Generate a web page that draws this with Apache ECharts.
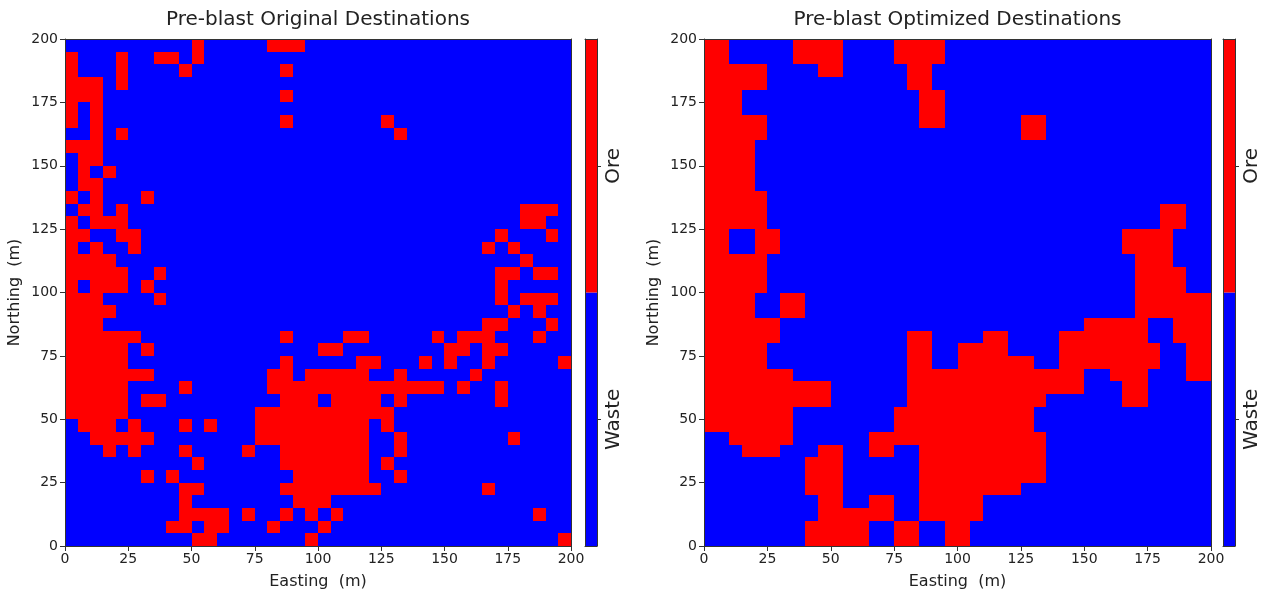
<!DOCTYPE html>
<html>
<head>
<meta charset="utf-8">
<title>Pre-blast destinations</title>
<script src="https://cdn.jsdelivr.net/npm/echarts@6/dist/echarts.min.js"></script>
<style>
  html, body { margin: 0; padding: 0; background: #fff; }
  #main { width: 1270px; height: 597px; }
</style>
</head>
<body>
<div id="main"></div>
<script>
// block size (m), extent 0-200 m in both directions
const cellSize = 5;
const extentMax = 200;
const tickStep = 25;

const classLabels = ['Waste', 'Ore'];
const classColors = ['#0000ff', '#ff0000'];
const panelTitles = ['Pre-blast Original Destinations', 'Pre-blast Optimized Destinations'];

// one string per row, top row = northing 195-200; 1 = ore, 0 = waste (groups of 5 blocks)
const originalRows = [
  '00000 00000 10000 01110 00000 00000 00000 00000',
  '10001 00110 10000 00000 00000 00000 00000 00000',
  '10001 00001 00000 00100 00000 00000 00000 00000',
  '11101 00000 00000 00000 00000 00000 00000 00000',
  '11100 00000 00000 00100 00000 00000 00000 00000',
  '10100 00000 00000 00000 00000 00000 00000 00000',
  '10100 00000 00000 00100 00000 10000 00000 00000',
  '00101 00000 00000 00000 00000 01000 00000 00000',
  '11100 00000 00000 00000 00000 00000 00000 00000',
  '01100 00000 00000 00000 00000 00000 00000 00000',
  '01010 00000 00000 00000 00000 00000 00000 00000',
  '01100 00000 00000 00000 00000 00000 00000 00000',
  '10100 01000 00000 00000 00000 00000 00000 00000',
  '01101 00000 00000 00000 00000 00000 00000 01110',
  '10111 00000 00000 00000 00000 00000 00000 01100',
  '11001 10000 00000 00000 00000 00000 00001 00010',
  '10100 10000 00000 00000 00000 00000 00010 10000',
  '11110 00000 00000 00000 00000 00000 00000 01000',
  '11111 00100 00000 00000 00000 00000 00001 10110',
  '10111 01000 00000 00000 00000 00000 00001 00000',
  '11100 00100 00000 00000 00000 00000 00001 01110',
  '11110 00000 00000 00000 00000 00000 00000 10100',
  '11100 00000 00000 00000 00000 00000 00011 00010',
  '11111 10000 00000 00100 00110 00001 01110 00100',
  '11111 01000 00000 00000 11000 00000 11011 00000',
  '11111 00000 00000 00100 00011 00010 10010 00001',
  '11111 11000 00000 01101 11110 01000 00100 00000',
  '11111 00001 00000 01111 11111 11111 01001 00000',
  '11111 01100 00000 00111 01111 01000 00001 00000',
  '11111 00000 00000 11111 11111 10000 00000 00000',
  '01110 10001 01000 11111 11110 10000 00000 00000',
  '00111 11000 00000 11111 11110 01000 00000 10000',
  '00010 10001 00001 00111 11110 01000 00000 00000',
  '00000 00000 10000 00111 11110 10000 00000 00000',
  '00000 01010 00000 00011 11110 01000 00000 00000',
  '00000 00001 10000 00111 11111 00000 00010 00000',
  '00000 00001 00000 00011 10000 00000 00000 00000',
  '00000 00001 11101 00101 01000 00000 00000 00100',
  '00000 00011 01100 01000 10000 00000 00000 00000',
  '00000 00000 11000 00001 00000 00000 00000 00001'
];

const optimizedRows = [
  '11000 00111 10000 11110 00000 00000 00000 00000',
  '11000 00111 10000 11110 00000 00000 00000 00000',
  '11111 00001 10000 01100 00000 00000 00000 00000',
  '11111 00000 00000 01100 00000 00000 00000 00000',
  '11100 00000 00000 00110 00000 00000 00000 00000',
  '11100 00000 00000 00110 00000 00000 00000 00000',
  '11111 00000 00000 00110 00000 11000 00000 00000',
  '11111 00000 00000 00000 00000 11000 00000 00000',
  '11110 00000 00000 00000 00000 00000 00000 00000',
  '11110 00000 00000 00000 00000 00000 00000 00000',
  '11110 00000 00000 00000 00000 00000 00000 00000',
  '11110 00000 00000 00000 00000 00000 00000 00000',
  '11111 00000 00000 00000 00000 00000 00000 00000',
  '11111 00000 00000 00000 00000 00000 00000 01100',
  '11111 00000 00000 00000 00000 00000 00000 01100',
  '11001 10000 00000 00000 00000 00000 00011 11000',
  '11001 10000 00000 00000 00000 00000 00011 11000',
  '11111 00000 00000 00000 00000 00000 00001 11000',
  '11111 00000 00000 00000 00000 00000 00001 11100',
  '11111 00000 00000 00000 00000 00000 00001 11100',
  '11110 01100 00000 00000 00000 00000 00001 11111',
  '11110 01100 00000 00000 00000 00000 00001 11111',
  '11111 10000 00000 00000 00000 00000 11111 00111',
  '11111 10000 00000 01100 00110 00011 11111 00111',
  '11111 00000 00000 01100 11110 00011 11111 10011',
  '11111 00000 00000 01100 11111 10011 11111 10011',
  '11111 11000 00000 01111 11111 11111 00111 00011',
  '11111 11111 00000 01111 11111 11111 00011 00000',
  '11111 11111 00000 01111 11111 11000 00011 00000',
  '11111 11000 00000 11111 11111 10000 00000 00000',
  '11111 11000 00000 11111 11111 10000 00000 00000',
  '00111 11000 00011 11111 11111 11000 00000 00000',
  '00011 10001 10011 00111 11111 11000 00000 00000',
  '00000 00011 10000 00111 11111 11000 00000 00000',
  '00000 00011 10000 00111 11111 11000 00000 00000',
  '00000 00011 10000 00111 11111 00000 00000 00000',
  '00000 00001 10011 00111 11000 00000 00000 00000',
  '00000 00001 11111 00111 11000 00000 00000 00000',
  '00000 00011 11100 11001 10000 00000 00000 00000',
  '00000 00011 11100 11001 10000 00000 00000 00000'
];

// [easting of block's west edge, northing of block's south edge, class]
function toCells(rows) {
  const cells = [];
  rows.forEach((row, r) => {
    const bits = row.replace(/ /g, '');
    for (let c = 0; c < bits.length; c++) {
      cells.push([c * cellSize, (rows.length - 1 - r) * cellSize, Number(bits[c])]);
    }
  });
  return cells;
}

// snap block edges to whole pixels so neighbours meet without seams
function renderCell(params, api) {
  const x = api.value(0);
  const y = api.value(1);
  const p0 = api.coord([x, y + cellSize]);
  const p1 = api.coord([x + cellSize, y]);
  const x0 = Math.round(p0[0]), y0 = Math.round(p0[1]);
  return {
    type: 'rect',
    shape: { x: x0, y: y0, width: Math.round(p1[0]) - x0, height: Math.round(p1[1]) - y0 },
    style: { fill: classColors[api.value(2)] }
  };
}

function renderBand(params, api) {
  const c = api.coord([0, api.value(1)]);
  const s = api.size([1, 1]);
  return {
    type: 'rect',
    shape: { x: c[0], y: c[1] - s[1] / 2, width: s[0], height: s[1] },
    style: { fill: classColors[api.value(1)] }
  };
}

const font = 'DejaVu Sans';
const axisColor = '#333';
const textColor = '#222';
const frameLine = { show: true, onZero: false, lineStyle: { color: axisColor, width: 1 } };
const hidden = { show: false };

function frameAxis(gridIndex, position, min, max, extra) {
  return Object.assign({
    gridIndex: gridIndex, type: 'value', position: position, min: min, max: max, z: 10,
    axisLine: frameLine, axisTick: hidden, axisLabel: hidden, splitLine: hidden
  }, extra || {});
}

function mainXAxes(gridIndex, title) {
  return [
    {
      gridIndex: gridIndex, type: 'value', position: 'bottom', z: 10,
      min: 0, max: extentMax, interval: tickStep,
      name: 'Easting  (m)', nameLocation: 'middle', nameGap: 28,
      nameTextStyle: { fontFamily: font, fontSize: 16, color: textColor },
      axisLine: frameLine,
      axisTick: { show: true, length: 5, lineStyle: { color: axisColor } },
      axisLabel: { fontFamily: font, fontSize: 14, color: textColor, margin: 6 },
      splitLine: hidden
    },
    frameAxis(gridIndex, 'top', 0, extentMax, {
      name: title, nameLocation: 'middle', nameGap: 9,
      nameTextStyle: { fontFamily: font, fontSize: 20, color: textColor }
    })
  ];
}

function mainYAxes(gridIndex) {
  return [
    {
      gridIndex: gridIndex, type: 'value', position: 'left', z: 10,
      min: 0, max: extentMax, interval: tickStep,
      name: 'Northing  (m)', nameLocation: 'middle', nameGap: 42,
      nameTextStyle: { fontFamily: font, fontSize: 16, color: textColor },
      axisLine: frameLine,
      axisTick: { show: true, length: 5, lineStyle: { color: axisColor } },
      axisLabel: { fontFamily: font, fontSize: 14, color: textColor, margin: 7 },
      splitLine: hidden
    },
    frameAxis(gridIndex, 'right', 0, extentMax)
  ];
}

function barXAxes(gridIndex) {
  return [frameAxis(gridIndex, 'bottom', 0, 1), frameAxis(gridIndex, 'top', 0, 1)];
}

function barYAxes(gridIndex) {
  return [
    {
      gridIndex: gridIndex, type: 'category', data: classLabels, position: 'right', z: 10,
      axisLine: frameLine,
      axisTick: { show: true, alignWithLabel: true, length: 4, lineStyle: { color: axisColor } },
      axisLabel: { fontFamily: font, fontSize: 20, color: textColor, rotate: 90, margin: 7 },
      splitLine: hidden
    },
    frameAxis(gridIndex, 'left', 0, 1)
  ];
}

const chart = echarts.init(document.getElementById('main'));

chart.setOption({
  animation: false,
  backgroundColor: '#fff',
  textStyle: { fontFamily: font },
  grid: [
    { left: 65, top: 39, width: 506, height: 507, outerBoundsMode: 'none' },
    { left: 585, top: 39, width: 12, height: 507, outerBoundsMode: 'none' },
    { left: 704, top: 39, width: 507, height: 507, outerBoundsMode: 'none' },
    { left: 1223, top: 39, width: 12, height: 507, outerBoundsMode: 'none' }
  ],
  xAxis: [].concat(mainXAxes(0, panelTitles[0]), barXAxes(1), mainXAxes(2, panelTitles[1]), barXAxes(3)),
  yAxis: [].concat(mainYAxes(0), barYAxes(1), mainYAxes(2), barYAxes(3)),
  series: [
    {
      type: 'custom', name: panelTitles[0], xAxisIndex: 0, yAxisIndex: 0,
      renderItem: renderCell, data: toCells(originalRows), clip: true
    },
    {
      type: 'custom', xAxisIndex: 2, yAxisIndex: 2,
      renderItem: renderBand, data: classLabels.map((_, i) => [0, i])
    },
    {
      type: 'custom', name: panelTitles[1], xAxisIndex: 4, yAxisIndex: 4,
      renderItem: renderCell, data: toCells(optimizedRows), clip: true
    },
    {
      type: 'custom', xAxisIndex: 6, yAxisIndex: 6,
      renderItem: renderBand, data: classLabels.map((_, i) => [0, i])
    }
  ]
});
</script>
</body>
</html>
